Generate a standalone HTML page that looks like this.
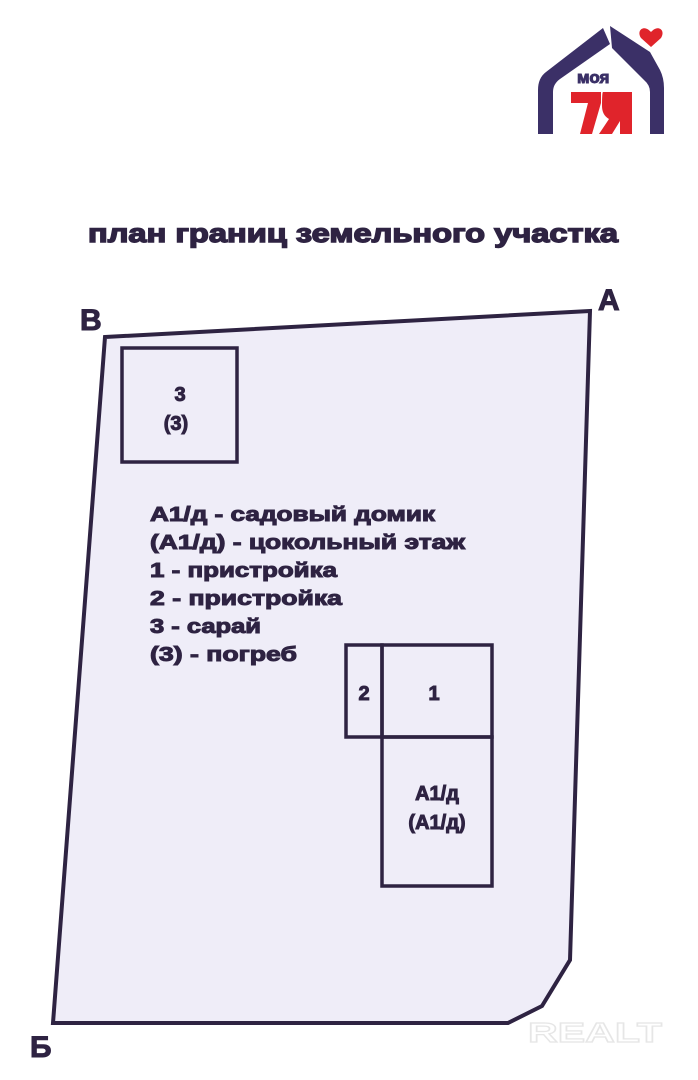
<!DOCTYPE html>
<html><head><meta charset="utf-8"><style>
html,body{margin:0;padding:0;background:#fff;}
svg{display:block;}
text{font-family:"Liberation Sans","DejaVu Sans",sans-serif;font-weight:bold;fill:#2e2342;stroke:#2e2342;stroke-width:1;}
</style></head><body>
<svg width="698" height="1080" viewBox="0 0 698 1080" xmlns="http://www.w3.org/2000/svg">
<g>
<path d="M603,28 L546,72 Q538,78 538,90 L538,134 L553,134 L553,92 Q553,84 560,79 L610,44 Z" fill="#3b3067"/>
<path d="M610,26 L650,52 L660,70 Q664,78 664,88 L664,134 L650,134 L650,92 Q650,85 644,80 L612,48 Z" fill="#3b3067"/>
<path d="M641,38 C636,30 644,24 651,32 C658,24 666,30 661,38 L651,47 Z" fill="#e0242b"/>
<text x="577" y="83" font-size="17" style="fill:#3b3067;stroke:#3b3067">моя</text>
<path d="M571,92 L601,92 L601,103 L592,134 L580,134 L588,103 L571,103 Z" fill="#e0242b"/>
<path d="M603,92 L632,92 L632,134 L620,134 L620,121 L612,134 L599,134 L609,119 Q602,115 602,106 Q602,92 603,92 Z" fill="#e0242b"/>
</g>
<text x="88" y="242" font-size="26" textLength="530" lengthAdjust="spacingAndGlyphs" style="stroke-width:1.4">план границ земельного участка</text>
<polygon points="105,337 590,311 570,960 542,1006 508,1023 53,1023" fill="#efedf8" stroke="#2e2342" stroke-width="4" stroke-linejoin="miter"/>
<text x="80" y="330" font-size="30">В</text>
<text x="598" y="310" font-size="30">А</text>
<text x="30" y="1057" font-size="30">Б</text>
<rect x="122" y="348" width="115" height="114" fill="none" stroke="#2e2342" stroke-width="3.5"/>
<text x="180" y="401" font-size="20" text-anchor="middle">3</text>
<text x="176" y="430" font-size="20" text-anchor="middle">(3)</text>
<rect x="346" y="645" width="36" height="92" fill="none" stroke="#2e2342" stroke-width="3.5"/>
<rect x="382" y="645" width="110" height="92" fill="none" stroke="#2e2342" stroke-width="3.5"/>
<rect x="382" y="737" width="110" height="149" fill="none" stroke="#2e2342" stroke-width="3.5"/>
<text x="364" y="700" font-size="20" text-anchor="middle">2</text>
<text x="434" y="700" font-size="20" text-anchor="middle">1</text>
<text x="437" y="800" font-size="20" text-anchor="middle">А1/д</text>
<text x="437" y="829" font-size="20" text-anchor="middle">(А1/д)</text>
<g font-size="20">
<text x="150" y="521" textLength="285" lengthAdjust="spacingAndGlyphs">А1/д - садовый домик</text>
<text x="150" y="549" textLength="315" lengthAdjust="spacingAndGlyphs">(А1/д) - цокольный этаж</text>
<text x="150" y="577" textLength="187" lengthAdjust="spacingAndGlyphs">1 - пристройка</text>
<text x="150" y="605" textLength="192" lengthAdjust="spacingAndGlyphs">2 - пристройка</text>
<text x="150" y="633" textLength="111" lengthAdjust="spacingAndGlyphs">3 - сарай</text>
<text x="150" y="661" textLength="147" lengthAdjust="spacingAndGlyphs">(3) - погреб</text>
</g>
<text x="528" y="1042" font-size="28" style="fill:none;stroke:#e6e6e6;stroke-width:1.2" textLength="134" lengthAdjust="spacingAndGlyphs">REALT</text>
</svg>
</body></html>
